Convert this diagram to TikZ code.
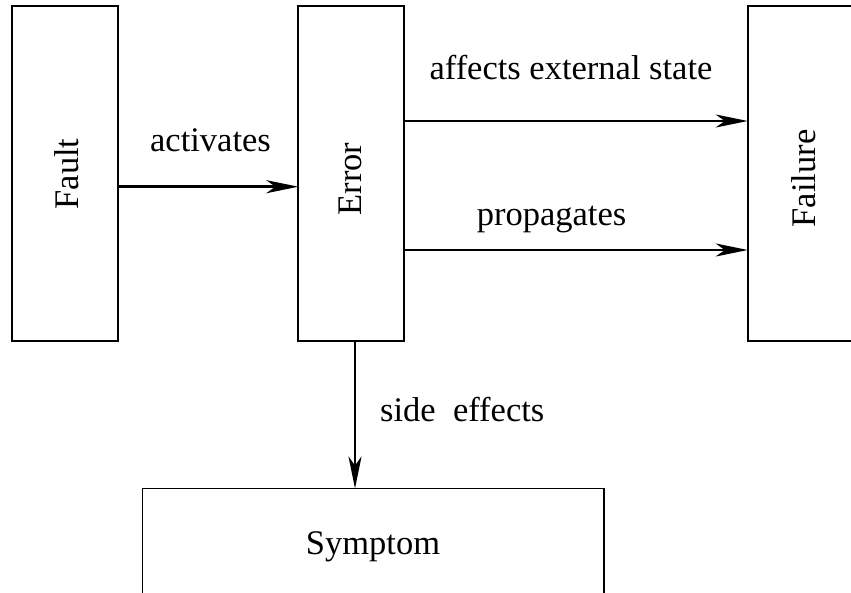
\documentclass[tikz,border=0pt]{standalone}
\usepackage{fontspec}
\setmainfont{Liberation Serif}
\usetikzlibrary{arrows.meta}

\tikzset{
  block/.style={draw=black, line width=1.8pt, inner sep=0pt, outer sep=0pt},
  lbl/.style={inner sep=0pt, font=\rmfamily\fontsize{34.5}{40}\selectfont},
  flow/.style={line width=2.8pt, -{Stealth[length=32pt, width=13pt, inset=9pt]}},
}

\begin{document}
\begin{tikzpicture}[x=1pt, y=-1pt]
  \useasboundingbox (0,0) rectangle (851,592);
  \clip (0,0) rectangle (851,592);

  % the four blocks
  \node[block, minimum width=106.3pt, minimum height=335pt] (fault)   at (64.9,173.2)  {};
  \node[block, minimum width=105.7pt, minimum height=335pt] (error)   at (351.2,173.2) {};
  \node[block, minimum width=110.3pt, minimum height=335pt] (failure) at (802.9,173.2) {};
  \node[block, minimum width=461.5pt, minimum height=131.5pt] (symptom) at (373.25,554.25) {};

  % block captions
  \node[lbl, rotate=90, anchor=base] (faulttxt)   at (78,174)    {Fault};
  \node[lbl, rotate=90, anchor=base] (errortxt)   at (361.7,179) {Error};
  \node[lbl, rotate=90, anchor=base] (failuretxt) at (815,178.5) {Failure};
  \node[lbl, anchor=base] (symptomtxt) at (373,554) {Symptom};

  % connectors
  \draw[flow] ([yshift=-13.5pt]fault.east) -- ([yshift=-13.5pt]error.west);
  \draw[flow] ([yshift=52.2pt]error.east) -- ([yshift=52.2pt]failure.west);
  \draw[flow] ([yshift=-76.8pt]error.east) -- ([yshift=-76.8pt]failure.west);
  \draw[flow] ([xshift=3.8pt]error.south) -- ([xshift=3.8pt]error.south |- symptom.north);

  % connector labels
  \node[lbl, anchor=base] (lactivates)  at (210.5,151.7) {activates};
  \node[lbl, anchor=base] (laffects)    at (571,79)      {affects external state};
  \node[lbl, anchor=base] (lpropagates) at (551.5,225)   {propagates};
  \node[lbl, anchor=base west] (lside)  at (380,421.7)   {side~~effects};
\end{tikzpicture}
\end{document}
